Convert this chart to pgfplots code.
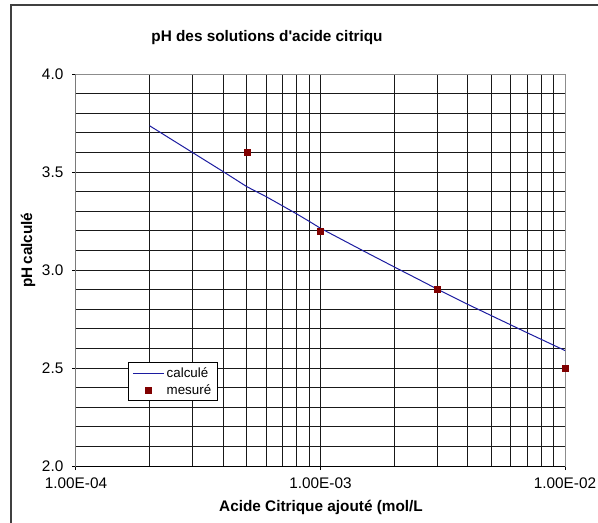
\documentclass[border=0pt]{standalone}
\usepackage{fontspec}
\setmainfont{Liberation Sans}
\usepackage{pgfplots}
\pgfplotsset{compat=1.18}
\definecolor{calcblue}{HTML}{1C1CA0}
\definecolor{mesred}{HTML}{800000}
\pgfplotsset{
  linelegend/.style={legend image code/.code={\path[draw=calcblue, line width=0.8pt] (0pt,0pt) -- (23pt,0pt);}},
  marklegend/.style={legend image code/.code={\draw[##1] plot coordinates {(11.5pt,0pt)};}},
}
\begin{document}
\begin{tikzpicture}
\useasboundingbox (0,0) rectangle (448.5pt,391.5pt);
% outer frame (cropped at right and bottom)
\draw[black!75, line width=1.2pt] (8.25pt,-10pt) -- (8.25pt,387.75pt) -- (460pt,387.75pt);
\node[font=\bfseries\fontsize{11.5}{13}\selectfont] at (200.25pt,363pt) {pH des solutions d\textquotesingle acide citriqu};
\node[font=\bfseries\fontsize{11.5}{13}\selectfont] at (240.75pt,11.25pt) {Acide Citrique ajouté (mol/L};
\node[font=\bfseries\fontsize{11.5}{13}\selectfont, rotate=90] at (21pt,204pt) {pH\,calculé};
\begin{axis}[
  at={(57pt,42pt)}, anchor=south west,
  scale only axis, width=366.75pt, height=294pt,
  xmode=log, xmin=1e-4, xmax=1e-2, ymin=2, ymax=4,
  xtick={1e-4,1e-3,1e-2},
  xticklabels={1.00E-04,1.00E-03,1.00E-02},
  ytick={2,2.5,3,3.5,4},
  minor ytick={2.1,2.2,2.3,2.4,2.6,2.7,2.8,2.9,3.1,3.2,3.3,3.4,3.6,3.7,3.8,3.9},
  yticklabel style={xshift=-3pt, /pgf/number format/.cd, fixed, fixed zerofill, precision=1, assume math mode=true},
  xticklabel style={yshift=-2pt},
  ticklabel style={font=\fontsize{11.5}{13}\selectfont},
  grid=both,
  major grid style={black!90, line width=0.75pt},
  minor grid style={black!90, line width=0.75pt},
  tick align=outside, xtick pos=left, ytick pos=left,
  major tick length=3pt, minor tick length=0pt,
  tick style={black, line width=0.75pt},
  axis line style={black!45, line width=0.75pt},
  legend style={at={(0.106,0.265)}, anchor=north west, draw=black, line width=0.75pt,
    font=\fontsize{10}{11}\selectfont, inner xsep=3pt, inner ysep=1.5pt, row sep=0pt,
    /tikz/every even column/.append style={column sep=1pt}},
  legend cell align=left,
]
\addplot[calcblue, line width=0.75pt, mark=none, linelegend] coordinates {
(2e-4,3.736) (3e-4,3.599) (4e-4,3.502) (5e-4,3.425) (6e-4,3.374)
(7e-4,3.327) (8e-4,3.286) (9e-4,3.248) (1e-3,3.213) (1.5e-3,3.097)
(2e-3,3.016) (2.5e-3,2.954) (3e-3,2.903) (4e-3,2.825) (5e-3,2.767)
(6e-3,2.720) (7e-3,2.680) (8e-3,2.646) (9e-3,2.616) (1e-2,2.589)
};
\addlegendentry{calculé}
\addplot[only marks, mark=square*, mark size=2.25pt, mesred, mark options={fill=mesred, draw=mesred}, marklegend] coordinates {
(5e-4,3.6) (1e-3,3.2) (3e-3,2.9) (1e-2,2.5)
};
\addlegendentry{mesuré}
\draw[black, line width=0.75pt] (rel axis cs:0,1) -- (rel axis cs:0,0) -- (rel axis cs:1,0);
\end{axis}
\end{tikzpicture}
\end{document}
